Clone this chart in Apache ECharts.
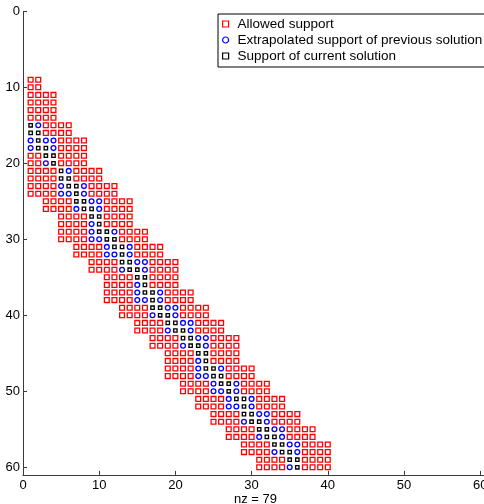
<!DOCTYPE html>
<html><head><meta charset="utf-8">
<script src="https://cdn.jsdelivr.net/npm/echarts@6/dist/echarts.min.js"></script>
<style>html,body{margin:0;padding:0;background:#fff;overflow:hidden}#c{width:484px;height:504px}</style>
</head><body><div id="c"></div>
<script>
const xTicks = [0, 10, 20, 30, 40, 50, 60];
const yTicks = [0, 10, 20, 30, 40, 50, 60];
const seriesNames = ['Allowed support', 'Extrapolated support of previous solution', 'Support of current solution'];
const xLabel = 'nz = 79';

// allowed support: [row, firstCol, lastCol]
const allowedRanges = [
  [9,1,2],[10,1,2],[11,1,4],[12,1,4],[13,1,4],[14,1,4],[15,1,6],[16,1,6],
  [17,1,8],[18,1,8],[19,1,8],[20,1,8],[21,1,10],[22,1,10],[23,1,12],[24,1,12],
  [25,3,14],[26,3,14],[27,5,14],[28,5,14],[29,5,16],[30,5,16],[31,7,18],[32,7,18],
  [33,9,20],[34,9,20],[35,11,20],[36,11,20],[37,11,22],[38,11,22],[39,13,24],[40,13,24],
  [41,15,26],[42,15,26],[43,17,28],[44,17,28],[45,19,28],[46,19,28],[47,19,30],[48,19,30],
  [49,21,32],[50,21,32],[51,23,34],[52,23,34],[53,25,36],[54,25,36],[55,27,38],[56,27,38],
  [57,29,40],[58,29,40],[59,31,40],[60,31,40]
];

// extrapolated support of previous solution (cells not covered by current): [row, col]
const previousCells = [
  [15,2],[17,1],[17,3],[17,4],[18,1],[18,4],[20,3],[21,6],
  [23,5],[23,8],[24,5],[24,6],[24,8],[25,9],[25,10],[26,7],[26,10],[28,9],
  [29,9],[29,12],[30,9],[30,10],[31,11],[31,14],[32,11],[32,12],[32,14],
  [33,15],[33,16],[34,13],[34,16],[36,15],[37,15],[37,18],[38,15],[38,16],[38,18],
  [39,19],[39,20],[40,17],[40,20],[41,21],[41,22],[42,19],[42,22],
  [43,23],[43,24],[44,21],[44,24],[46,23],[47,23],[47,26],[48,23],[48,24],
  [49,25],[49,28],[50,25],[50,26],[50,28],[51,27],[51,30],[52,27],[52,28],[52,30],
  [53,31],[53,32],[54,29],[54,32],[55,33],[55,34],[56,31],[56,34],
  [57,35],[57,36],[58,33],[58,36],[60,35]
];

// support of current solution: [row, col]
const currentCells = [
  [15,1],[16,1],[16,2],[17,2],[18,2],[18,3],[19,3],[19,4],[20,4],[21,5],[22,5],[22,6],
  [23,6],[23,7],[24,7],[25,7],[25,8],[26,8],[26,9],[27,9],[27,10],[28,10],
  [29,10],[29,11],[30,11],[30,12],[31,12],[31,13],[32,13],[33,13],[33,14],[34,14],[34,15],
  [35,15],[35,16],[36,16],[37,16],[37,17],[38,17],[39,17],[39,18],[40,18],[40,19],
  [41,19],[41,20],[42,20],[42,21],[43,21],[43,22],[44,22],[44,23],[45,23],[45,24],[46,24],
  [47,24],[47,25],[48,25],[48,26],[49,26],[49,27],[50,27],[51,28],[51,29],[52,29],
  [53,29],[53,30],[54,30],[54,31],[55,31],[55,32],[56,32],[56,33],
  [57,33],[57,34],[58,34],[58,35],[59,35],[59,36],[60,36]
];

const key = (r, c) => r + ',' + c;
const taken = new Set(previousCells.concat(currentCells).map(p => key(p[0], p[1])));
const allowedPts = [];
allowedRanges.forEach(([r, a, b]) => {
  for (let c = a; c <= b; c++) if (!taken.has(key(r, c))) allowedPts.push([c, r]);
});
const prevPts = previousCells.map(p => [p[1], p[0]]);
const curPts = currentCells.map(p => [p[1], p[0]]);

const FONT = "'Liberation Sans', Arial, Helvetica, sans-serif";
const axisColor = '#3a3a3a';

const chart = echarts.init(document.getElementById('c'), null, {renderer: 'canvas'});
chart.setOption({
  animation: false,
  backgroundColor: '#ffffff',
  textStyle: {fontFamily: FONT},
  grid: {left: 23, top: 11.3, width: 464.8, height: 463.6, containLabel: false, outerBoundsMode: 'none'},
  xAxis: {
    type: 'value', min: 0, max: 61, position: 'bottom',
    axisLine: {onZero: false, lineStyle: {color: axisColor, width: 1}},
    axisTick: {inside: true, length: 4, customValues: xTicks, lineStyle: {color: axisColor}},
    axisLabel: {customValues: xTicks, color: '#000', fontSize: 13, margin: 4, fontFamily: FONT, hideOverlap: false},
    splitLine: {show: false},
    name: xLabel, nameLocation: 'middle', nameGap: 18, nameMoveOverlap: false,
    nameTextStyle: {color: '#000', fontSize: 13, fontFamily: FONT, verticalAlign: 'top'}
  },
  yAxis: {
    type: 'value', min: 0, max: 61, inverse: true, position: 'left',
    axisLine: {onZero: false, lineStyle: {color: axisColor, width: 1}},
    axisTick: {inside: true, length: 4, customValues: yTicks, lineStyle: {color: axisColor}},
    axisLabel: {customValues: yTicks, color: '#000', fontSize: 13, margin: 3, fontFamily: FONT, hideOverlap: false},
    splitLine: {show: false}
  },
  legend: {
    orient: 'vertical', left: 218, top: 14,
    padding: [2, 16, 3, 4],
    borderColor: '#000', borderWidth: 1, backgroundColor: '#fff',
    itemWidth: 6, itemHeight: 6, itemGap: 0,
    textStyle: {fontSize: 13.5, color: '#000', fontFamily: FONT, lineHeight: 16, padding: [0, 0, 0, 4]},
    data: [
      {name: seriesNames[0], icon: 'rect', itemStyle: {color: 'rgba(0,0,0,0)', borderColor: '#ff0000', borderWidth: 1.2}},
      {name: seriesNames[1], icon: 'circle', itemStyle: {color: 'rgba(0,0,0,0)', borderColor: '#0000ff', borderWidth: 1.2}},
      {name: seriesNames[2], icon: 'rect', itemStyle: {color: 'rgba(0,0,0,0)', borderColor: '#000000', borderWidth: 1.2}}
    ]
  },
  series: [
    {name: seriesNames[0], type: 'scatter', symbol: 'rect', symbolSize: 4.8, silent: true,
     itemStyle: {color: 'rgba(0,0,0,0)', borderColor: '#ff0000', borderWidth: 1.3, opacity: 1},
     data: allowedPts},
    {name: seriesNames[1], type: 'scatter', symbol: 'circle', symbolSize: 4.8, silent: true,
     itemStyle: {color: 'rgba(0,0,0,0)', borderColor: '#0000ff', borderWidth: 1.3, opacity: 1},
     data: prevPts},
    {name: seriesNames[2], type: 'scatter', symbol: 'rect', symbolSize: 3.4, silent: true,
     itemStyle: {color: 'rgba(0,0,0,0)', borderColor: '#000000', borderWidth: 1.3, opacity: 1},
     data: curPts}
  ]
});
</script></body></html>
